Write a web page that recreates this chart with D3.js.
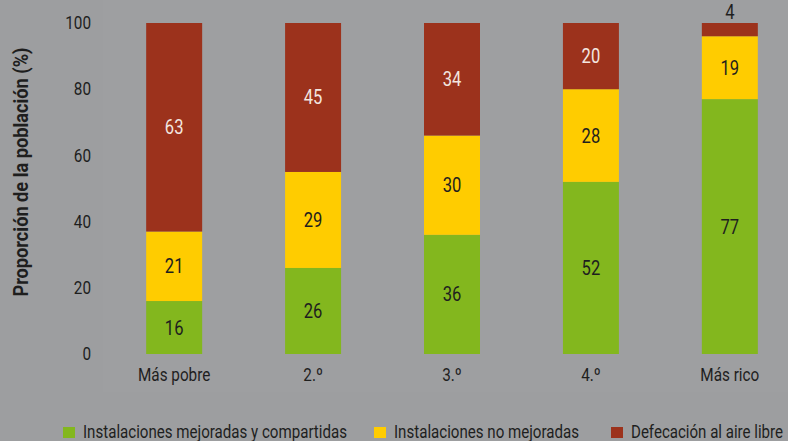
<!DOCTYPE html>
<html>
<head>
<meta charset="utf-8">
<script src="https://cdn.jsdelivr.net/npm/d3@7"></script>
<style>
  html, body { margin: 0; padding: 0; background: #9d9ea0; }
  svg { display: block; }
  text { font-family: Roboto, "Liberation Sans", sans-serif; }
</style>
</head>
<body>
<svg id="chart" width="788" height="441"></svg>
<script>
// Quintiles de riqueza
const categories = ["Más pobre", "2.º", "3.º", "4.º", "Más rico"];
// Proporción de la población (%) por tipo de saneamiento
const improvedShared = [16, 26, 36, 52, 77];
const unimproved = [21, 29, 30, 28, 19];
const openDefecation = [63, 45, 34, 20, 4];
const seriesNames = ["Instalaciones mejoradas y compartidas", "Instalaciones no mejoradas", "Defecación al aire libre"];
const yTicks = [0, 20, 40, 60, 80, 100];

const colors = ["#83b71e", "#ffcc00", "#9c321c"];
const labelColors = ["#1e1e1e", "#1e1e1e", "#f3e6e0"];
const narrow = "scale(0.85,1)";

const svg = d3.select("#chart");

// zona del gráfico, apenas más clara
svg.append("rect")
  .attr("x", 103).attr("y", 0).attr("width", 685).attr("height", 392)
  .attr("fill", "#9e9fa1");

const x = d3.scaleBand()
  .domain(categories)
  .range([104.5, 799.5])
  .paddingInner(0.597)
  .paddingOuter(0.3);

const y = d3.scaleLinear().domain([0, 100]).range([354, 23]);

const rows = categories.map((c, i) => ({
  cat: c, s0: improvedShared[i], s1: unimproved[i], s2: openDefecation[i]
}));
const layers = d3.stack().keys(["s0", "s1", "s2"])(rows);

// Barras apiladas
const g = svg.append("g");
layers.forEach((layer, li) => {
  g.selectAll(null)
    .data(layer)
    .enter()
    .append("rect")
    .attr("x", d => x(d.data.cat))
    .attr("width", x.bandwidth())
    .attr("y", d => y(d[1]))
    .attr("height", d => y(d[0]) - y(d[1]))
    .attr("fill", colors[li]);
});

// Etiquetas de valores
layers.forEach((layer, li) => {
  const lab = g.selectAll(null)
    .data(layer)
    .enter()
    .append("g")
    .attr("transform", d => {
      const v = d[1] - d[0];
      const cx = x(d.data.cat) + x.bandwidth() / 2;
      const cy = v < 8 ? y(d[1]) - 4 : (y(d[0]) + y(d[1])) / 2 + 7;
      return `translate(${cx},${cy})`;
    });
  lab.append("text")
    .attr("transform", narrow)
    .attr("text-anchor", "middle")
    .attr("font-size", 19.5)
    .attr("fill", d => (d[1] - d[0]) < 8 ? "#1e1e1e" : labelColors[li])
    .text(d => d[1] - d[0]);
});

// Eje Y
const yAxis = d3.axisLeft(y).tickValues(yTicks).tickSize(0).tickPadding(0);
const ya = svg.append("g").attr("transform", "translate(91,0)").call(yAxis);
ya.select(".domain").remove();
ya.selectAll("text")
  .attr("transform", narrow)
  .attr("font-size", 18)
  .attr("fill", "#1e1e1e")
  .attr("font-family", "Roboto, sans-serif");

// Eje X
const xAxis = d3.axisBottom(x).tickSize(0).tickPadding(0);
const xa = svg.append("g").attr("transform", "translate(0,368)").call(xAxis);
xa.select(".domain").remove();
xa.selectAll("text")
  .attr("transform", narrow)
  .attr("font-size", 18)
  .attr("dy", "0.71em")
  .attr("fill", "#1e1e1e")
  .attr("font-family", "Roboto, sans-serif");

// Título del eje Y
svg.append("text")
  .attr("transform", "translate(28,172) rotate(-90)")
  .attr("text-anchor", "middle")
  .attr("font-size", 20)
  .attr("font-weight", "bold")
  .attr("fill", "#1e1e1e")
  .attr("textLength", 249)
  .attr("lengthAdjust", "spacingAndGlyphs")
  .text("Proporción de la población (%)");

// Leyenda
const legendX = [63, 374, 611];
const legendW = [264, 185, 152];
const legend = svg.append("g");
seriesNames.forEach((name, i) => {
  legend.append("rect")
    .attr("x", legendX[i]).attr("y", 427)
    .attr("width", 12).attr("height", 11)
    .attr("fill", colors[i]);
  legend.append("text")
    .attr("x", legendX[i] + 20).attr("y", 438)
    .attr("font-size", 18)
    .attr("fill", "#1e1e1e")
    .attr("textLength", legendW[i])
    .attr("lengthAdjust", "spacingAndGlyphs")
    .text(name);
});
</script>
</body>
</html>
